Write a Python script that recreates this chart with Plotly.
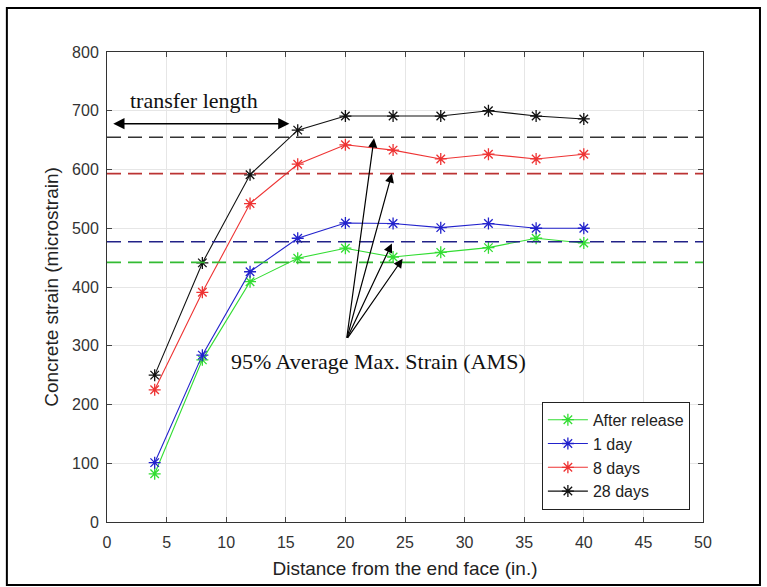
import plotly.graph_objects as go

distance = [4, 8, 12, 16, 20, 24, 28, 32, 36, 40]
after_release = [82, 276, 409, 449, 466, 451, 459, 467, 483, 475]
one_day = [101, 284, 426, 483, 509, 508, 501, 508, 500, 500]
eight_days = [225, 391, 542, 609, 642, 633, 618, 626, 618, 626]
twentyeight_days = [250, 441, 591, 667, 691, 691, 691, 700, 691, 686]

series_names = ["After release", "1 day", "8 days", "28 days"]
series_values = [after_release, one_day, eight_days, twentyeight_days]
series_colors = ["#33dd33", "#2222cc", "#ee3333", "#111111"]

ams_levels = [442, 477, 593, 655]
ams_colors = ["#33bb33", "#222288", "#bb3333", "#333333"]

ams_arrow_tail = (20.1, 311)
ams_arrow_tips = [(22.4, 653), (23.9, 593), (23.9, 474), (24.8, 448)]

x_ticks = [0, 5, 10, 15, 20, 25, 30, 35, 40, 45, 50]
y_ticks = [0, 100, 200, 300, 400, 500, 600, 700, 800]

fig = go.Figure()

for lvl, col in zip(ams_levels, ams_colors):
    fig.add_shape(type="line", xref="x", yref="y", x0=0, x1=50, y0=lvl, y1=lvl,
                  line=dict(color=col, width=1.6, dash="14px,7px"))

for name, vals, col in zip(series_names, series_values, series_colors):
    fig.add_trace(go.Scatter(
        x=distance, y=vals, name=name, mode="lines+markers",
        line=dict(color=col, width=1.1),
        marker=dict(symbol="asterisk-open", size=10, color=col, line=dict(color=col, width=1.3)),
    ))

serif = "Liberation Serif, Times New Roman, serif"
annotations = []
for tx, ty in ams_arrow_tips:
    annotations.append(dict(x=tx, y=ty, xref="x", yref="y", ax=ams_arrow_tail[0], ay=ams_arrow_tail[1],
                            axref="x", ayref="y", showarrow=True, arrowhead=2, arrowsize=1.5,
                            arrowwidth=1.2, arrowcolor="black", text=""))
annotations.append(dict(x=15.3, y=678, xref="x", yref="y", ax=0.4, ay=678, axref="x", ayref="y",
                        showarrow=True, arrowhead=2, startarrowhead=2, arrowside="end+start",
                        arrowsize=1.4, startarrowsize=1.4, arrowwidth=1.6, arrowcolor="black", text=""))
annotations.append(dict(x=1.8, y=718, xref="x", yref="y", xanchor="left", yanchor="middle",
                        text="transfer length", showarrow=False,
                        font=dict(family=serif, size=22, color="#111")))
annotations.append(dict(x=10.2, y=274, xref="x", yref="y", xanchor="left", yanchor="middle",
                        text="95% Average Max. Strain (AMS)", showarrow=False,
                        font=dict(family=serif, size=22, color="#111")))

fig.add_shape(type="rect", xref="paper", yref="paper", x0=-0.168, x1=1.0956, y0=-0.134, y1=1.0936,
              line=dict(color="black", width=2), fillcolor="rgba(0,0,0,0)", layer="below")

fig.update_layout(
    width=767, height=587,
    margin=dict(l=107, r=64, t=52, b=65),
    paper_bgcolor="white", plot_bgcolor="white",
    font=dict(family="Liberation Sans, Arial, sans-serif", size=16, color="#333"),
    showlegend=True,
    legend=dict(x=0.978, y=0.026, xanchor="right", yanchor="bottom",
                bordercolor="#222", borderwidth=1, bgcolor="white",
                font=dict(size=16, color="#222"), tracegroupgap=0, itemwidth=40),
    annotations=annotations,
)
fig.update_xaxes(range=[0, 50], tickvals=x_ticks, ticks="inside", ticklen=5, tickcolor="#444",
                 showgrid=True, gridcolor="#e6e6e6", showline=True, linecolor="#333", linewidth=1,
                 mirror="ticks", zeroline=False, ticklabelstandoff=6,
                 title=dict(text="Distance from the end face (in.)", font=dict(size=19, color="#222"), standoff=11))
fig.update_yaxes(range=[0, 800], tickvals=y_ticks, ticks="inside", ticklen=5, tickcolor="#444",
                 showgrid=True, gridcolor="#e6e6e6", showline=True, linecolor="#333", linewidth=1,
                 mirror="ticks", zeroline=False, ticklabelstandoff=4,
                 title=dict(text="Concrete strain (microstrain)", font=dict(size=19, color="#222"), standoff=8))

fig.write_html("out.html")
